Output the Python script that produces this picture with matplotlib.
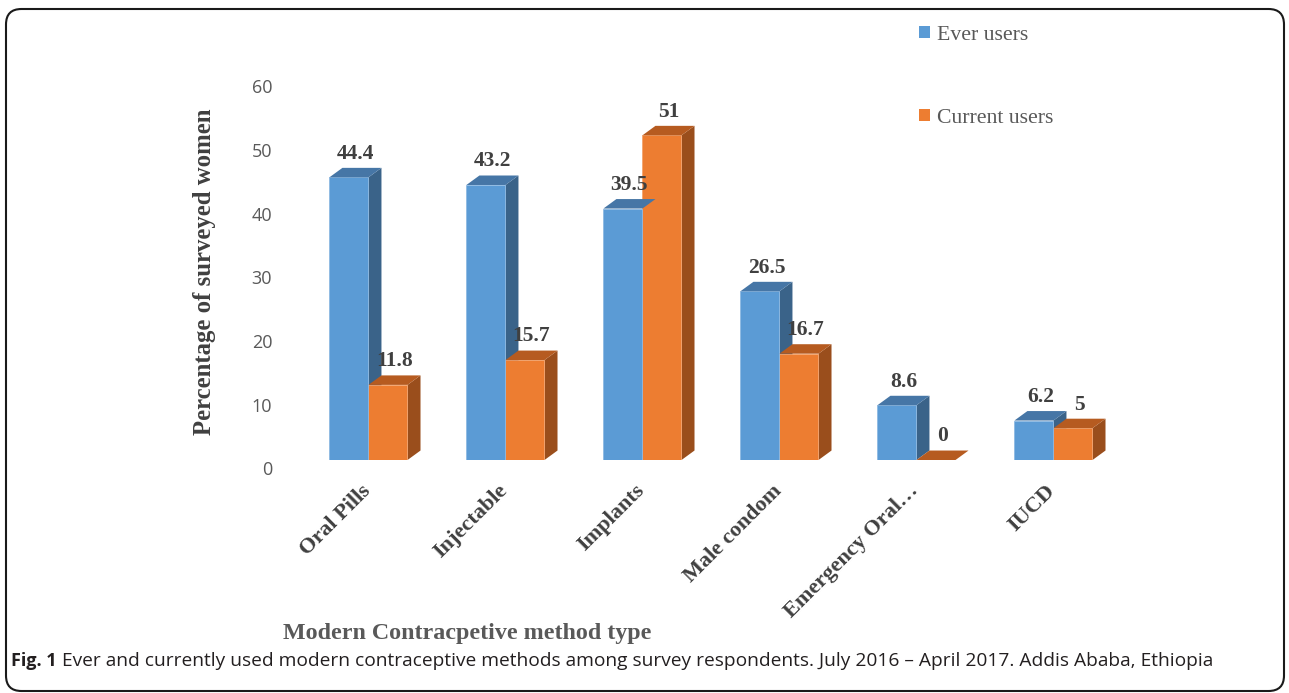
import matplotlib
matplotlib.use("Agg")
import matplotlib.pyplot as plt
import matplotlib.transforms as mtransforms
from matplotlib.patches import Polygon, Patch, FancyBboxPatch

# data
methods = ["Oral Pills", "Injectable", "Implants", "Male condom", "Emergency Oral\u2026", "IUCD"]
ever_users = [44.4, 43.2, 39.5, 26.5, 8.6, 6.2]
current_users = [11.8, 15.7, 51, 16.7, 0, 5]
series_names = ["Ever users", "Current users"]

# colours: front, top, side
blue = ("#5B9BD5", "#4676A6", "#3A6389")
orange = ("#ED7D31", "#B65B20", "#9A4E1C")

serif = "Liberation Serif"
dark = "#404040"
grey = "#595959"

fig = plt.figure(figsize=(12.89, 6.93), dpi=100)
ax = fig.add_axes([0.2327, 0.3362, 0.6377, 0.5512])

width = 0.285
dx = 0.095   # fake depth, x (category units)
dy = 1.49    # fake depth, y (data units)


def draw_3d_bars(xs, vals, cols, edge):
    for x, v in zip(xs, vals):
        left = x - width / 2
        right = x + width / 2
        ax.bar(x, v, width=width, color=cols[0], edgecolor=edge, linewidth=0.6, zorder=2)
        side = [(right, 0), (right + dx, dy), (right + dx, v + dy), (right, v)]
        top = [(left, v), (left + dx, v + dy), (right + dx, v + dy), (right, v)]
        ax.add_patch(Polygon(side, closed=True, facecolor=cols[2], edgecolor="none", zorder=1.5))
        ax.add_patch(Polygon(top, closed=True, facecolor=cols[1], edgecolor="none", zorder=2.5))


xs = list(range(len(methods)))
draw_3d_bars([x + width / 2 for x in xs], current_users, orange, "#F4A46E")
draw_3d_bars([x - width / 2 for x in xs], ever_users, blue, "#8DB9E3")

# value labels
for x, v in zip(xs, ever_users):
    ax.annotate(f"{v:g}", (x - width / 2 + dx / 2, v + dy), xytext=(0, 3), textcoords="offset points",
                ha="center", va="bottom", fontsize=15.5, fontweight="bold", family=serif, color=dark, zorder=5)
for x, v in zip(xs, current_users):
    ax.annotate(f"{v:g}", (x + width / 2 + dx / 2, v + dy), xytext=(0, 3), textcoords="offset points",
                ha="center", va="bottom", fontsize=15.5, fontweight="bold", family=serif, color=dark, zorder=5)

ax.set_xlim(-0.5, len(methods) - 0.5)
ax.set_ylim(0, 60)
ax.set_yticks(range(0, 61, 10))
ax.tick_params(axis="y", length=0, pad=20, labelsize=13, labelcolor=grey)
for lab in ax.get_yticklabels():
    lab.set_family("Open Sans")
    lab.set_transform(lab.get_transform() + mtransforms.ScaledTranslation(0, -6 / 72, fig.dpi_scale_trans))

ax.set_xticks(xs)
ax.set_xticklabels(methods, rotation=45, ha="right", va="top", rotation_mode="anchor",
                   fontsize=16, fontweight="bold", family=serif, color=dark)
ax.tick_params(axis="x", length=0, pad=15)
for lab in ax.get_xticklabels():
    lab.set_transform(lab.get_transform() + mtransforms.ScaledTranslation(-8 / 100, 0, fig.dpi_scale_trans))

for s in ax.spines.values():
    s.set_visible(False)
ax.set_facecolor("none")

# axis titles
fig.text(205 / 1289, 1 - 272 / 693, "Percentage of surveyed women", rotation=90, ha="center", va="center",
         fontsize=17.8, fontweight="bold", family=serif, color=dark)
fig.text(467 / 1289, 1 - 633 / 693, "Modern Contracpetive method type", ha="center", va="center",
         fontsize=17.3, fontweight="bold", family=serif, color=grey)

# legend
handles = [Patch(facecolor=blue[0]), Patch(facecolor=orange[0])]
fig.legend(handles, series_names, loc="upper left", bbox_to_anchor=(899 / 1289, 1 - 6 / 693),
           frameon=False, prop={"family": serif, "size": 15.7}, labelcolor=grey,
           labelspacing=2.95, handlelength=0.5, handleheight=0.5, handletextpad=0.35)

# rounded frame around the figure panel
frame = FancyBboxPatch((6 / 1289, 2 / 693), 1278 / 1289, 682 / 693,
                       boxstyle="round,pad=0,rounding_size=0.012", transform=fig.transFigure,
                       facecolor="none", edgecolor="#1a1a1a", linewidth=1.5, mutation_aspect=1289 / 693)
fig.patches.append(frame)

# caption
fig.canvas.draw()
bold = fig.text(11 / 1289, 1 - 661 / 693, "Fig. 1", ha="left", va="center", fontsize=13,
                fontweight="bold", family="Open Sans", color="#231F20")
fig.canvas.draw()
bb = bold.get_window_extent()
fig.text((bb.x1 + 5) / 1289, 1 - 661 / 693,
         "Ever and currently used modern contraceptive methods among survey respondents. "
         "July 2016 \u2013 April 2017. Addis Ababa, Ethiopia",
         ha="left", va="center", fontsize=13.8, family="Open Sans", color="#231F20")

fig.savefig("out.png", dpi=100)
